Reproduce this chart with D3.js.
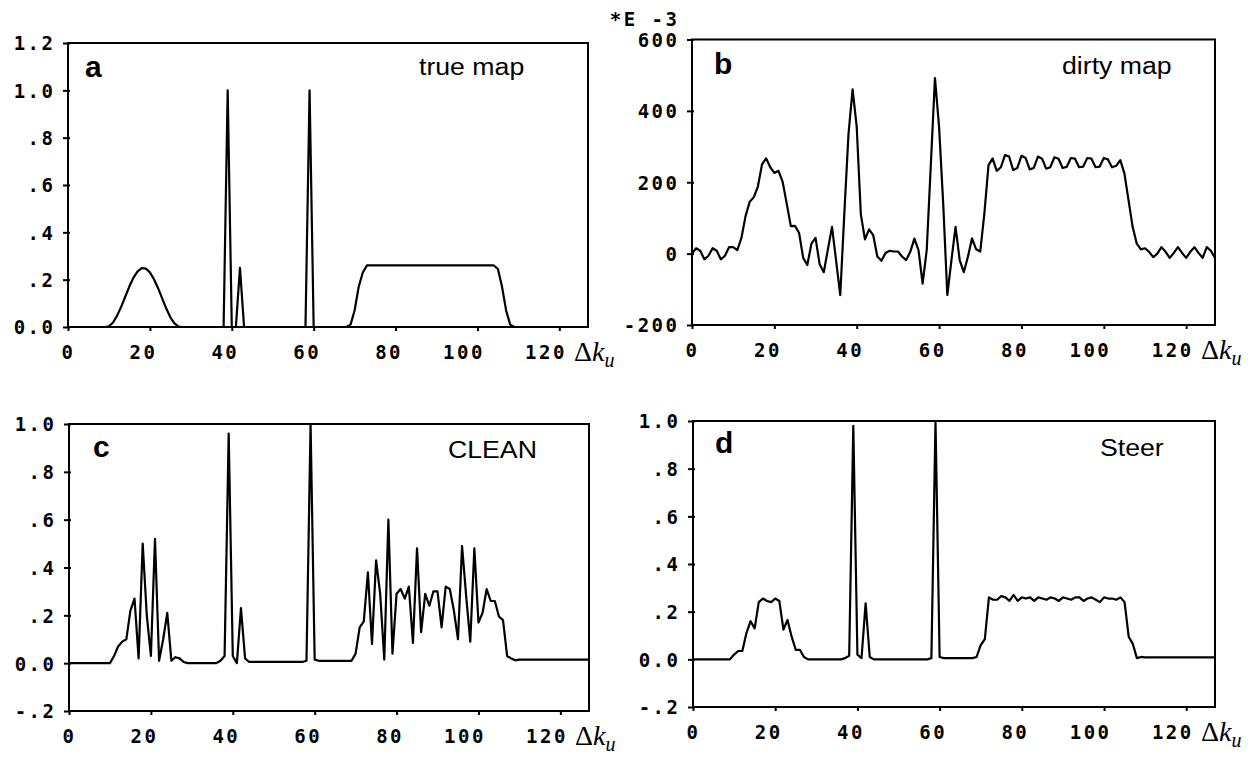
<!DOCTYPE html>
<html>
<head>
<meta charset="utf-8">
<script src="https://cdn.jsdelivr.net/npm/d3@7"></script>
<style>
  body { margin: 0; background: #fff; }
  svg { display: block; }
  .plotter, .tick text {
    font-family: "DejaVu Sans Mono", "Liberation Mono", monospace;
    font-weight: bold;
    font-size: 19px;
    letter-spacing: 2.5px;
    font-variant-numeric: slashed-zero;
    fill: #000;
  }
  .panel-tag { font-family: "Liberation Sans", Arial, sans-serif; font-weight: bold; font-size: 30px; }
  .panel-title { font-family: "Liberation Sans", Arial, sans-serif; font-size: 23px; }
  .axis-name { font-family: "Liberation Serif", "Times New Roman", serif; font-size: 28px; }
</style>
</head>
<body>
<svg id="fig" width="1257" height="762"></svg>
<script>
// Spatial-frequency offset ticks (sample index along Δk_u)
const kTicks = [0, 20, 40, 60, 80, 100, 120];
const kDomain = [0, 127];

// y tick sets
const yTicksTrue = [0, 0.2, 0.4, 0.6, 0.8, 1.0, 1.2];
const yTicksDirty = [-200, 0, 200, 400, 600];
const yTicksRecon = [-0.2, 0, 0.2, 0.4, 0.6, 0.8, 1.0];

// (a) true map, 128 samples
const trueMap = [
  0, 0, 0, 0, 0, 0, 0, 0, 0, 0,
  0.003, 0.019, 0.048, 0.086, 0.129, 0.172, 0.209, 0.235, 0.249, 0.247,
  0.231, 0.202, 0.164, 0.121, 0.078, 0.041, 0.015, 0.002, 0, 0,
  0, 0, 0, 0, 0, 0, 0, 0, 0, 1.0,
  0, 0, 0.25, 0, 0, 0, 0, 0, 0, 0,
  0, 0, 0, 0, 0, 0, 0, 0, 0, 1.0,
  0, 0, 0, 0, 0, 0, 0, 0, 0, 0.01,
  0.07, 0.17, 0.23, 0.26, 0.26, 0.26, 0.26, 0.26, 0.26, 0.26,
  0.26, 0.26, 0.26, 0.26, 0.26, 0.26, 0.26, 0.26, 0.26, 0.26,
  0.26, 0.26, 0.26, 0.26, 0.26, 0.26, 0.26, 0.26, 0.26, 0.26,
  0.26, 0.26, 0.26, 0.26, 0.26, 0.245, 0.17, 0.07, 0.01, 0,
  0, 0, 0, 0, 0, 0, 0, 0, 0, 0,
  0, 0, 0, 0, 0, 0, 0, 0
];

// (b) dirty map, in units of 1E-3
const dirtyMap = [
  0, 15, 8, -16, -6, 15, 8, -16, -6, 18,
  18, 10, 44, 105, 145, 158, 188, 250, 267, 242,
  226, 232, 202, 140, 77, 78, 58, -12, -32, 28,
  44, -30, -52, 12, 75, -20, -116, 115, 335, 460,
  355, 110, 40, 68, 52, -8, -20, 2, 8, 6,
  6, -8, -18, 5, 42, 10, -84, 10, 250, 492,
  355, 140, -116, -18, 75, -18, -52, -9, 43, 12,
  6, 113, 248, 267, 232, 242, 276, 272, 234, 240,
  274, 268, 236, 240, 272, 266, 238, 242, 270, 266,
  240, 243, 268, 266, 242, 244, 268, 266, 242, 244,
  268, 264, 242, 246, 262, 225, 150, 75, 28, 12,
  15, 5, -10, 0, 18, 5, -12, 2, 18, 2,
  -12, 5, 18, 2, -12, 18, 8, -12
];

// (c) CLEAN reconstruction
const cleanMap = [
  0, 0, 0, 0, 0, 0, 0, 0, 0, 0,
  0, 0.03, 0.07, 0.09, 0.10, 0.22, 0.27, 0.02, 0.50, 0.20,
  0.03, 0.52, 0.01, 0.10, 0.21, 0.01, 0.025, 0.02, 0.005, 0,
  0, 0, 0, 0, 0, 0, 0, 0.01, 0.03, 0.96,
  0.03, 0, 0.23, 0.02, 0.005, 0.005, 0.005, 0.005, 0.005, 0.005,
  0.005, 0.005, 0.005, 0.005, 0.005, 0.005, 0.005, 0.005, 0.01, 1.0,
  0.015, 0.01, 0.01, 0.01, 0.01, 0.01, 0.01, 0.01, 0.01, 0.01,
  0.04, 0.15, 0.175, 0.38, 0.08, 0.43, 0.29, 0.015, 0.60, 0.04,
  0.29, 0.31, 0.27, 0.32, 0.085, 0.48, 0.13, 0.29, 0.24, 0.30,
  0.30, 0.15, 0.32, 0.31, 0.22, 0.10, 0.49, 0.28, 0.09, 0.48,
  0.17, 0.21, 0.31, 0.26, 0.26, 0.195, 0.18, 0.03, 0.02, 0.012,
  0.015, 0.015, 0.015, 0.015, 0.015, 0.015, 0.015, 0.015, 0.015, 0.015,
  0.015, 0.015, 0.015, 0.015, 0.015, 0.015, 0.015, 0.015
];

// (d) Steer reconstruction
const steerMap = [
  0, 0, 0, 0, 0, 0, 0, 0, 0, 0,
  0.02, 0.035, 0.035, 0.11, 0.16, 0.13, 0.24, 0.255, 0.245, 0.24,
  0.255, 0.245, 0.125, 0.165, 0.095, 0.04, 0.04, 0.01, 0, 0,
  0, 0, 0, 0, 0, 0, 0, 0.005, 0.015, 0.98,
  0.02, 0.005, 0.235, 0.01, 0, 0, 0, 0, 0, 0,
  0, 0, 0, 0, 0, 0, 0, 0, 0.005, 1.0,
  0.01, 0.005, 0.005, 0.005, 0.005, 0.005, 0.005, 0.005, 0.005, 0.01,
  0.06, 0.085, 0.26, 0.25, 0.25, 0.265, 0.26, 0.245, 0.27, 0.245,
  0.26, 0.255, 0.26, 0.245, 0.26, 0.255, 0.25, 0.26, 0.255, 0.245,
  0.26, 0.255, 0.25, 0.26, 0.26, 0.245, 0.255, 0.26, 0.25, 0.24,
  0.26, 0.255, 0.255, 0.25, 0.26, 0.24, 0.095, 0.065, 0.005, 0.01,
  0.008, 0.008, 0.008, 0.008, 0.008, 0.008, 0.008, 0.008, 0.008, 0.008,
  0.008, 0.008, 0.008, 0.008, 0.008, 0.008, 0.008, 0.008
];

// plotter-style fractional labels: 1.2, 1.0, .8, 0.0, -.2
function fracLabel(v) {
  if (Math.abs(v) < 1e-9) return "0.0";
  const a = Math.abs(v);
  const s = a >= 1 ? a.toFixed(1) : "." + Math.round(a * 10);
  return (v < 0 ? "-" : "") + s;
}

const panels = [
  { tag: "a", title: "true map", data: trueMap, yDomain: [0, 1.2], yTicks: yTicksTrue, fmt: fracLabel,
    box: { l: 68, r: 588, t: 43, b: 327 }, tagPos: [17, 34], titlePos: [351, 32] },
  { tag: "b", title: "dirty map", data: dirtyMap, yDomain: [-200, 600], yTicks: yTicksDirty, fmt: d => String(d),
    box: { l: 692, r: 1215, t: 39.5, b: 325 }, tagPos: [22, 34], titlePos: [370, 34], exponent: "*E -3" },
  { tag: "c", title: "CLEAN", data: cleanMap, yDomain: [-0.2, 1.0], yTicks: yTicksRecon, fmt: fracLabel,
    box: { l: 69, r: 589, t: 424, b: 711 }, tagPos: [24, 33], titlePos: [379, 34] },
  { tag: "d", title: "Steer", data: steerMap, yDomain: [-0.2, 1.0], yTicks: yTicksRecon, fmt: fracLabel,
    box: { l: 693, r: 1215, t: 421, b: 707 }, tagPos: [22, 32], titlePos: [407, 35] }
];

const svg = d3.select("#fig");

panels.forEach((p, pi) => {
  const { l, r, t, b } = p.box;
  const x = d3.scaleLinear().domain(kDomain).range([l, r]);
  const y = d3.scaleLinear().domain(p.yDomain).range([b, t]);
  const g = svg.append("g");

  // bottom axis: short downward ticks, labels right-aligned under each tick
  const xa = g.append("g").attr("transform", `translate(0,${b})`)
    .call(d3.axisBottom(x).tickValues(kTicks).tickSize(4).tickFormat(d => String(d)));
  xa.select(".domain").remove();
  xa.selectAll(".tick line").attr("stroke", "#000").attr("stroke-width", 2);
  xa.selectAll(".tick text").attr("text-anchor", "end").attr("x", 7).attr("y", 32).attr("dy", null);

  // left axis
  const ya = g.append("g").attr("transform", `translate(${l},0)`)
    .call(d3.axisLeft(y).tickValues(p.yTicks).tickSize(5).tickFormat(p.fmt));
  ya.select(".domain").remove();
  ya.selectAll(".tick line").attr("stroke", "#000").attr("stroke-width", 2).attr("x2", -5).attr("x1", 2);
  ya.selectAll(".tick text").attr("text-anchor", "end").attr("x", -12.5).attr("dy", "0.36em");
  svg.selectAll(".tick text").attr("fill", "#000");

  // frame
  g.append("rect").attr("x", l).attr("y", t).attr("width", r - l).attr("height", b - t)
    .attr("fill", "none").attr("stroke", "#000").attr("stroke-width", 2);

  // data trace, clipped to the frame
  const clipId = "clip" + pi;
  svg.append("clipPath").attr("id", clipId)
    .append("rect").attr("x", l).attr("y", t - 1).attr("width", r - l).attr("height", b - t + 2);
  const line = d3.line().x((d, i) => x(i)).y(d => y(d));
  g.append("path").datum(p.data).attr("clip-path", `url(#${clipId})`)
    .attr("d", line).attr("fill", "none").attr("stroke", "#000")
    .attr("stroke-width", 2.2).attr("stroke-linejoin", "round");

  // panel tag and title
  g.append("text").attr("class", "panel-tag").attr("x", l + p.tagPos[0]).attr("y", t + p.tagPos[1]).text(p.tag);
  g.append("text").attr("class", "panel-title")
    .attr("transform", `translate(${l + p.titlePos[0]},${t + p.titlePos[1]}) scale(1.16,1)`)
    .text(p.title);

  // axis name Δk_u
  const an = g.append("text").attr("class", "axis-name").attr("x", r - 14).attr("y", b + 34);
  an.append("tspan").text("Δ");
  an.append("tspan").attr("font-style", "italic").text("k");
  an.append("tspan").attr("font-style", "italic").attr("font-size", "20px").attr("dy", 6).text("u");

  // exponent marker above the dirty-map scale
  if (p.exponent) {
    g.append("text").attr("class", "plotter").attr("text-anchor", "end")
      .attr("x", l - 12.5).attr("y", 26).text(p.exponent);
  }
});
</script>
</body>
</html>
